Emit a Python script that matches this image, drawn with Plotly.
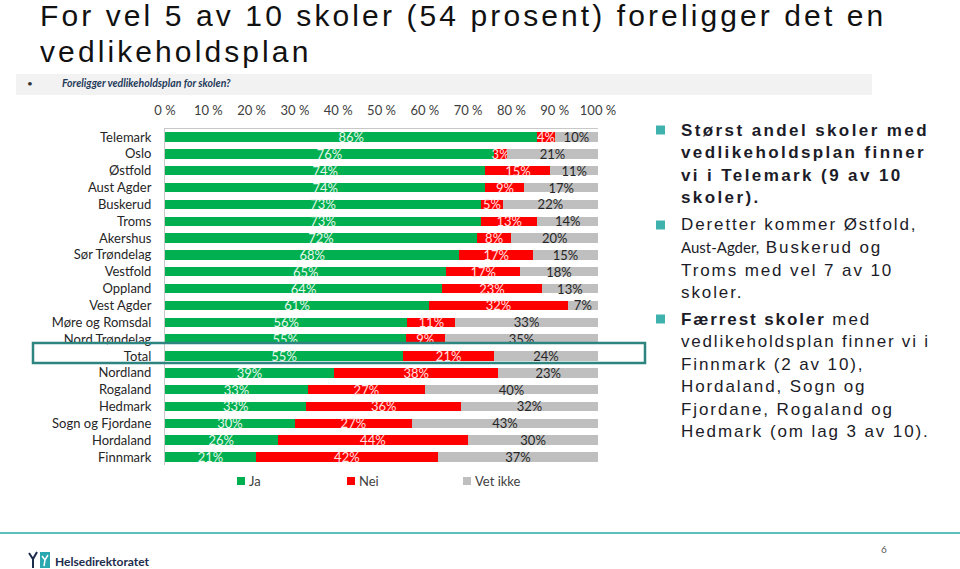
import plotly.graph_objects as go

fylker = ["Telemark", "Oslo", "Østfold", "Aust Agder", "Buskerud", "Troms", "Akershus",
          "Sør Trøndelag", "Vestfold", "Oppland", "Vest Agder", "Møre og Romsdal",
          "Nord Trøndelag", "Total", "Nordland", "Rogaland", "Hedmark",
          "Sogn og Fjordane", "Hordaland", "Finnmark"]
ja = [86, 76, 74, 74, 73, 73, 72, 68, 65, 64, 61, 56, 55, 55, 39, 33, 33, 30, 26, 21]
nei = [4, 3, 15, 9, 5, 13, 8, 17, 17, 23, 32, 11, 9, 21, 38, 27, 36, 27, 44, 42]
vet_ikke = [10, 21, 11, 17, 22, 14, 20, 15, 18, 13, 7, 33, 35, 24, 23, 40, 32, 43, 30, 37]
x_ticks = list(range(0, 101, 10))

W, H = 960, 569


def px(x):
    return x / W


def py(y):
    return 1 - y / H


fig = go.Figure()

serier = [
    ("Ja", ja, "#00b050", "#e8f6ec"),
    ("Nei", nei, "#ff0000", "#ffe0e0"),
    ("Vet ikke", vet_ikke, "#bfbfbf", "#262626"),
]
for navn, verdier, farge, tekstfarge in serier:
    fig.add_trace(go.Bar(
        y=fylker, x=verdier, name=navn, orientation="h",
        marker=dict(color=farge, line=dict(width=0)),
        text=[f"{v}%" for v in verdier],
        textposition="inside", insidetextanchor="middle", textangle=0,
        textfont=dict(family="Lato", size=13, color=tekstfarge),
        cliponaxis=False, showlegend=False,
    ))

fig.update_layout(
    width=W, height=H,
    barmode="stack", barnorm="percent", bargap=0.44,
    uniformtext=dict(minsize=13, mode="show"),
    paper_bgcolor="white", plot_bgcolor="white",
    margin=dict(l=0, r=0, t=0, b=0),
    font=dict(family="Lato", size=13, color="#262626"),
    xaxis=dict(
        domain=[px(165), px(598)], range=[0, 100], side="top",
        tickmode="array", tickvals=x_ticks, ticktext=[f"{v} %" for v in x_ticks],
        showgrid=False, zeroline=False,
        showline=True, linecolor="#c8c8c8", linewidth=1,
        ticks="outside", ticklen=7, tickcolor="rgba(0,0,0,0)",
        tickfont=dict(family="Lato", size=13, color="#404040"), automargin=False,
    ),
    yaxis=dict(
        domain=[py(465.4), py(128.6)], autorange="reversed",
        tickmode="array", tickvals=fylker, ticktext=fylker,
        showgrid=False, zeroline=False,
        showline=True, linecolor="#c8c8c8", linewidth=1,
        ticks="outside", ticklen=10, tickcolor="rgba(0,0,0,0)",
        tickfont=dict(family="Lato", size=13, color="#262626"), automargin=False,
    ),
    showlegend=False,
)


def rekt(x0, x1, y0, y1, farge, **kw):
    return dict(type="rect", xref="paper", yref="paper", x0=px(x0), x1=px(x1),
                y0=py(y1), y1=py(y0), fillcolor=farge, line=dict(width=0), **kw)


def sti(punkter):
    deler = []
    for i, (x, y) in enumerate(punkter):
        deler.append(("M" if i == 0 else "L") + f"{px(x):.5f},{py(y):.5f}")
    return " ".join(deler)


shapes = [
    # grå stripe under tittelen
    rekt(16, 872, 74, 95, "#f2f2f2", layer="below"),
    # ramme rundt Total
    dict(type="rect", xref="paper", yref="paper", x0=px(33), x1=px(645), y0=py(363), y1=py(343),
         fillcolor="rgba(0,0,0,0)", line=dict(color="#2e8580", width=2.5)),
    # linje nederst
    dict(type="line", xref="paper", yref="paper", x0=0, x1=1, y0=py(533), y1=py(533),
         line=dict(color="#5cc0bf", width=2)),
    # logo
    rekt(40, 50, 552, 568, "#2aa8b0"),
    dict(type="path", xref="paper", yref="paper",
         path=sti([(29, 553), (33, 559), (37, 552)]) + " " + sti([(33, 559), (33, 568)]),
         line=dict(color="#1c2c4c", width=2)),
    dict(type="path", xref="paper", yref="paper",
         path=sti([(42, 556), (45, 560), (48, 555)]) + " " + sti([(45, 560), (44, 566)]),
         line=dict(color="white", width=1.5)),
]
for yb in [130, 225, 319]:
    shapes.append(rekt(656, 665, yb - 4.5, yb + 4.5, "#40b2ae"))

# forklaring (legend)
legend_x = [237, 347, 463]
for (navn, _, farge, _), lx in zip(serier, legend_x):
    shapes.append(rekt(lx, lx + 8, 477, 485, farge))


def tekst(t, x, y, size, family="Lato", color="#262626", xanchor="left", yanchor="middle",
          align="left"):
    return dict(text=t, x=px(x), y=py(y), xref="paper", yref="paper", xanchor=xanchor,
                yanchor=yanchor, align=align, showarrow=False,
                font=dict(family=family, size=size, color=color))


def sperret(t, ls):
    return f"<span style='letter-spacing:{ls}px'>{t}</span>"


annotations = [
    tekst(sperret("For vel 5 av 10 skoler (54 prosent) foreligger det en", 3.1),
          38, 15.5, 30, family="Liberation Sans", color="#111111"),
    tekst(sperret("vedlikeholdsplan", 3.1),
          38, 51.5, 30, family="Liberation Sans", color="#111111"),
    tekst("•", 25, 83, 10, color="#333333"),
    tekst("<b><i>Foreligger vedlikeholdsplan for skolen?</i></b>", 60, 83, 10.5,
          color="#1f3a5a"),
    tekst("<b>Helsedirektoratet</b>", 53, 561, 12, color="#1c2c4c"),
    tekst("6", 884, 549, 10, color="#595959", xanchor="center"),
]
for (navn, _, _, _), lx in zip(serier, legend_x):
    annotations.append(tekst(navn, lx + 10, 481, 13, color="#404040"))

hoyre_tekst = [
    (130, "<b>Størst andel skoler med</b>", 2.4),
    (152.5, "<b>vedlikeholdsplan finner</b>", 2.4),
    (175, "<b>vi i Telemark (9 av 10</b>", 2.4),
    (197.5, "<b>skoler).</b>", 2.4),
    (225, "Deretter kommer Østfold,", 1.9),
    (247, None, 1.9),
    (270, "Troms med vel 7 av 10", 1.9),
    (292.5, "skoler.", 1.9),
    (319, "<b>Færrest skoler</b> med", 1.9),
    (341.5, "vedlikeholdsplan finner vi i", 1.8),
    (364, "Finnmark (2 av 10),", 1.9),
    (386.5, "Hordaland, Sogn og", 1.9),
    (409, "Fjordane, Rogaland og", 1.9),
    (431.5, "Hedmark (om lag 3 av 10).", 1.9),
]
for yl, linje, ls in hoyre_tekst:
    if linje is None:
        t = ("<span style='font-family:Lato;font-size:15px;letter-spacing:0px'>Aust-Agder,</span>"
             + sperret(" Buskerud og", ls))
    else:
        t = sperret(linje, ls)
    annotations.append(tekst(t, 679, yl, 17, family="Liberation Sans", color="#1c1c28"))

fig.update_layout(shapes=shapes, annotations=annotations)

fig.write_html("out.html", config={"displayModeBar": False},
               post_script="document.body.style.margin='0';")
